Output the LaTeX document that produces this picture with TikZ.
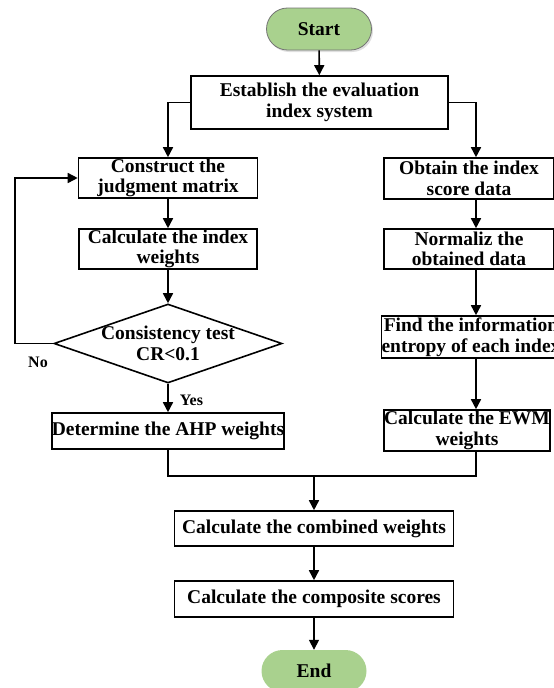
\documentclass[tikz,border=0pt]{standalone}
\usepackage{fontspec}
\setmainfont{Liberation Serif}
\usetikzlibrary{arrows.meta,shapes.geometric,shadows}
\definecolor{termgreen}{HTML}{A9D18E}
\begin{document}
\begin{tikzpicture}[x=1pt,y=1pt,
  font=\fontsize{19.5}{20.5}\selectfont\bfseries,
  box/.style={draw, line width=1.6pt, rectangle, align=center, inner sep=0pt},
  term/.style={fill=termgreen, rounded corners=21pt, minimum width=105pt, minimum height=42pt, inner sep=0pt},
  arr/.style={line width=1.6pt, -{Triangle[length=10pt,width=10pt]}},
  ln/.style={line width=1.6pt},
  lbl/.style={font=\fontsize{16}{18}\selectfont\bfseries, inner sep=0pt}]
\useasboundingbox (0,0) rectangle (554,-688);
% terminals
\node[term, draw=black!55, line width=0.8pt, drop shadow={opacity=0.25, shadow xshift=1.5pt, shadow yshift=-2pt}] (start) at (319,-29) {Start};
\node[term] (end) at (314,-671) {End};
% boxes
\node[box, minimum width=257pt, minimum height=53pt] (establish) at (319.5,-102.5) {Establish the evaluation\\index system};
\node[box, minimum width=179pt, minimum height=40pt] (construct) at (168,-178) {Construct the\\judgment matrix};
\node[box, minimum width=178pt, minimum height=40pt] (calcw) at (168,-249) {Calculate the index\\weights};
\node[draw, diamond, line width=1.6pt, minimum width=228pt, minimum height=79pt, inner sep=0pt] (test) at (168,-343.5) {};
\node[align=center, inner sep=0pt] (testtext) at (test) {Consistency test\\CR<0.1};
\node[box, minimum width=231pt, minimum height=36pt] (ahp) at (168,-431) {Determine the AHP weights};
\node[box, minimum width=170pt, minimum height=41pt] (obtain) at (469,-178.5) {Obtain the index\\score data};
\node[box, minimum width=170pt, minimum height=40pt] (normaliz) at (469,-249) {Normaliz the\\obtained data};
\node[box, minimum width=176pt, minimum height=42pt] (find) at (471,-337) {Find the information\\entropy of each index};
\node[box, minimum width=166pt, minimum height=41pt] (ewm) at (467,-430.5) {Calculate the EWM\\weights};
\node[box, minimum width=279pt, minimum height=35pt] (combined) at (314,-528.5) {Calculate the combined weights};
\node[box, minimum width=279pt, minimum height=36pt] (composite) at (314,-599) {Calculate the composite scores};
% labels
\node[lbl] (no) at (38,-362) {No};
\node[lbl] (yes) at (191.5,-400) {Yes};
% helper coordinates
\coordinate (rcol) at (476,0);
\coordinate (lp) at (15,-178);
\coordinate (m) at (314,-476);
% connectors
\draw[arr] (start) -- (establish);
\draw[arr] (establish.west) -| (construct.north);
\draw[arr] (establish.east) -| (obtain.north -| rcol);
\draw[arr] (construct) -- (calcw);
\draw[arr] (calcw) -- (test);
\draw[arr] (test) -- (ahp);
\draw[arr] (test.west) -| (lp) -- (construct.west);
\draw[arr] (obtain.south -| rcol) -- (normaliz.north -| rcol);
\draw[arr] (normaliz.south -| rcol) -- (find.north -| rcol);
\draw[arr] (find.south -| rcol) -- (ewm.north -| rcol);
\draw[ln] (ahp.south) |- (m);
\draw[ln] (ewm.south -| rcol) |- (m);
\draw[arr] (m) -- (combined);
\draw[arr] (combined) -- (composite);
\draw[arr] (composite) -- (end);
\end{tikzpicture}
\end{document}
